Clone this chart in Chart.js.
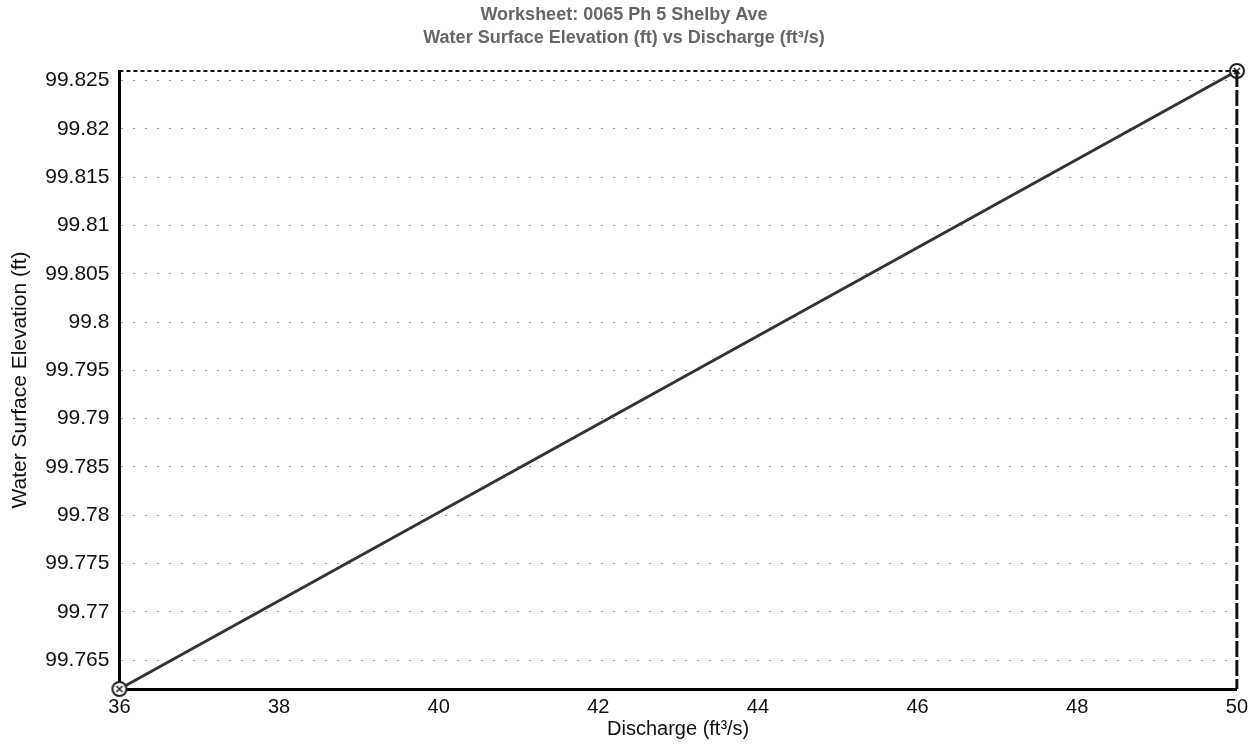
<!DOCTYPE html>
<html>
<head>
<meta charset="utf-8">
<script src="https://cdn.jsdelivr.net/npm/chart.js@4/dist/chart.umd.min.js"></script>
<style>
	body { margin: 0; background: #fff; }
	#wrap { width: 1254px; height: 747px; }
</style>
</head>
<body>
<div id="wrap"><canvas id="ratingChart"></canvas></div>
<script>
// Data
const discharge = [36, 50];
const elevation = [99.762, 99.826];
const xTicks = [36, 38, 40, 42, 44, 46, 48, 50];
const yTicks = [99.765, 99.77, 99.775, 99.78, 99.785, 99.79, 99.795, 99.8, 99.805, 99.81, 99.815, 99.82, 99.825];
const titleLines = ['Worksheet: 0065 Ph 5 Shelby Ave', 'Water Surface Elevation (ft) vs Discharge (ft\u00b3/s)'];

const FONT = "'Liberation Sans', Arial, sans-serif";

// circle with an x in it, like the worksheet markers
const makeMarker = () => {
	const c = document.createElement('canvas');
	c.width = 18;
	c.height = 18;
	const g = c.getContext('2d');
	g.strokeStyle = '#222';
	g.lineWidth = 2;
	g.fillStyle = '#fff';
	g.beginPath();
	g.arc(9, 9, 7, 0, Math.PI * 2);
	g.fill();
	g.stroke();
	g.lineWidth = 1.5;
	g.beginPath();
	g.moveTo(6, 6); g.lineTo(12, 12);
	g.moveTo(12, 6); g.lineTo(6, 12);
	g.stroke();
	return c;
};

// top + right frame lines (dotted), the other two come from the axes
const frame = {
	id: 'frame',
	afterDatasetsDraw(chart) {
		const { ctx, chartArea: a } = chart;
		ctx.save();
		ctx.strokeStyle = '#111';
		ctx.lineWidth = 2;
		ctx.setLineDash([4, 3]);
		ctx.beginPath();
		ctx.moveTo(a.left, a.top);
		ctx.lineTo(a.right, a.top);
		ctx.stroke();
		ctx.setLineDash([16, 3]);
		ctx.lineWidth = 3;
		ctx.beginPath();
		ctx.moveTo(a.right, a.top);
		ctx.lineTo(a.right, a.bottom);
		ctx.stroke();
		ctx.restore();
	}
};

new Chart(document.getElementById('ratingChart'), {
	type: 'scatter',
	data: {
		datasets: [{
			data: discharge.map((x, i) => ({ x: x, y: elevation[i] })),
			showLine: true,
			clip: false,
			borderColor: '#333',
			borderWidth: 3,
			pointStyle: makeMarker(),
			pointRadius: 9,
		}]
	},
	options: {
		responsive: true,
		maintainAspectRatio: false,
		animation: false,
		layout: { padding: { left: 6, right: 12, top: 0, bottom: 6 } },
		plugins: {
			legend: { display: false },
			tooltip: { enabled: false },
			title: {
				display: true,
				text: titleLines,
				color: '#666',
				font: { family: FONT, size: 18, weight: 'bold', lineHeight: 1.25 },
				padding: { top: 4, bottom: 22 }
			}
		},
		scales: {
			x: {
				type: 'linear',
				min: 36,
				max: 50,
				afterBuildTicks: axis => { axis.ticks = xTicks.map(v => ({ value: v })); },
				grid: { display: false, drawTicks: false },
				border: { display: true, color: '#000', width: 3 },
				ticks: { color: '#111', font: { family: FONT, size: 20 }, padding: 6, maxRotation: 0 },
				title: {
					display: true,
					text: 'Discharge (ft\u00b3/s)',
					color: '#111',
					font: { family: FONT, size: 20 },
					padding: { top: -8, bottom: 0 }
				}
			},
			y: {
				min: 99.762,
				max: 99.826,
				afterBuildTicks: axis => { axis.ticks = yTicks.map(v => ({ value: v })); },
				grid: { color: '#999', lineWidth: 1, drawTicks: false },
				border: { display: true, color: '#000', width: 3, dash: [2, 10] },
				ticks: {
					color: '#111',
					font: { family: FONT, size: 21 },
					padding: 10,
					callback: v => String(Number(v.toFixed(3)))
				},
				title: { display: true, text: 'Water Surface Elevation (ft)', color: '#111', font: { family: FONT, size: 21 }, padding: 2 }
			}
		}
	},
	plugins: [frame]
});
</script>
</body>
</html>
